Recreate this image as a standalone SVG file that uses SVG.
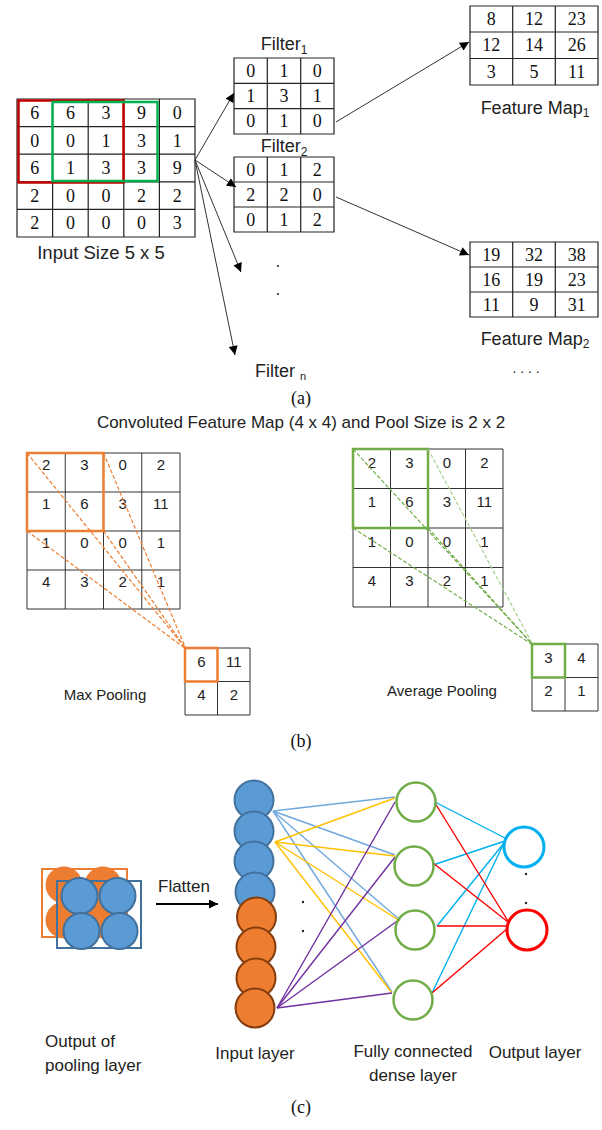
<svg xmlns="http://www.w3.org/2000/svg" width="602" height="1130" viewBox="0 0 602 1130">
  <style>
    .grid{fill:none;stroke:#222;stroke-width:1.2}
    .gridb{fill:none;stroke:#333;stroke-width:1}
    .num{font-family:"Liberation Serif","Times New Roman",serif;font-size:18px;fill:#111;text-anchor:middle}
    .cap{font-family:"Liberation Serif","Times New Roman",serif;font-size:18px;fill:#111;text-anchor:middle}
    .sn{font-family:"Liberation Sans",Arial,sans-serif;font-size:15px;fill:#222;text-anchor:middle}
    .la{font-family:"Liberation Sans",Arial,sans-serif;font-size:18px;fill:#222;text-anchor:middle}
    .fm{font-family:"Liberation Sans",Arial,sans-serif;font-size:18px;fill:#222;text-anchor:middle}
    .lb{font-family:"Liberation Sans",Arial,sans-serif;font-size:15px;fill:#222;text-anchor:middle}
    .ttl{font-family:"Liberation Sans",Arial,sans-serif;font-size:17px;fill:#222;text-anchor:middle}
    .lc{font-family:"Liberation Sans",Arial,sans-serif;font-size:17px;fill:#222}
    .mid{text-anchor:middle}
    .conn{stroke:#333;stroke-width:1;fill:none}
    .dsh{fill:none;stroke-width:1.2;stroke-dasharray:4 2}
    .bl{fill:#5B9BD5;stroke:#41719C;stroke-width:2}
    .or{fill:#ED7D31;stroke:#843C0C;stroke-width:2}
    .hid{fill:none;stroke:#70AD47;stroke-width:2.5}
    .w{stroke-width:1.4;fill:none}
  </style>
  <defs>
    <marker id="ah" viewBox="0 0 10 10" refX="10" refY="5" markerWidth="10" markerHeight="9" markerUnits="userSpaceOnUse" orient="auto">
      <path d="M0,0 L10,5 L0,10 z" fill="#000"/>
    </marker>
  </defs>
  <rect width="602" height="1130" fill="#fff"/>

  <!-- (a) convolution -->
  <g id="input-grid">
    <path class="grid" d="M17,99H195V237H17Z M52.6,99V237 M88.2,99V237 M123.8,99V237 M159.4,99V237 M17,126.6H195 M17,154.2H195 M17,181.8H195 M17,209.4H195"/>
    <g class="num">
      <text x="34.8" y="119">6</text><text x="70.4" y="119">6</text><text x="106" y="119">3</text><text x="141.6" y="119">9</text><text x="177.2" y="119">0</text>
      <text x="34.8" y="146.6">0</text><text x="70.4" y="146.6">0</text><text x="106" y="146.6">1</text><text x="141.6" y="146.6">3</text><text x="177.2" y="146.6">1</text>
      <text x="34.8" y="174.2">6</text><text x="70.4" y="174.2">1</text><text x="106" y="174.2">3</text><text x="141.6" y="174.2">3</text><text x="177.2" y="174.2">9</text>
      <text x="34.8" y="201.8">2</text><text x="70.4" y="201.8">0</text><text x="106" y="201.8">0</text><text x="141.6" y="201.8">2</text><text x="177.2" y="201.8">2</text>
      <text x="34.8" y="229.4">2</text><text x="70.4" y="229.4">0</text><text x="106" y="229.4">0</text><text x="141.6" y="229.4">0</text><text x="177.2" y="229.4">3</text>
    </g>
    <rect x="18.5" y="100.5" width="105" height="82" fill="none" stroke="#C00000" stroke-width="2.5"/>
    <rect x="52.5" y="102" width="105" height="79" fill="none" stroke="#00B050" stroke-width="2.5"/>
    <text class="la" x="101" y="259" style="font-size:18.5px">Input Size 5 x 5</text>
  </g>

  <g id="filter1">
    <text class="la" x="284" y="50">Filter<tspan font-size="12" dy="4">1</tspan></text>
    <path class="grid" d="M234,58H334V134H234Z M267.3,58V134 M300.7,58V134 M234,83.3H334 M234,108.7H334"/>
    <g class="num">
      <text x="250.7" y="76.7">0</text><text x="284" y="76.7">1</text><text x="317.3" y="76.7">0</text>
      <text x="250.7" y="102">1</text><text x="284" y="102">3</text><text x="317.3" y="102">1</text>
      <text x="250.7" y="127.3">0</text><text x="284" y="127.3">1</text><text x="317.3" y="127.3">0</text>
    </g>
  </g>

  <g id="filter2">
    <text class="la" x="284" y="152">Filter<tspan font-size="12" dy="4">2</tspan></text>
    <path class="grid" d="M234,157H334V232H234Z M267.3,157V232 M300.7,157V232 M234,182H334 M234,207H334"/>
    <g class="num">
      <text x="250.7" y="175.5">0</text><text x="284" y="175.5">1</text><text x="317.3" y="175.5">2</text>
      <text x="250.7" y="200.5">2</text><text x="284" y="200.5">2</text><text x="317.3" y="200.5">0</text>
      <text x="250.7" y="225.5">0</text><text x="284" y="225.5">1</text><text x="317.3" y="225.5">2</text>
    </g>
  </g>

  <g id="filter-n">
    <circle cx="278" cy="266" r="1.1" fill="#222"/>
    <circle cx="278" cy="294" r="1.1" fill="#222"/>
    <text class="la" x="255" y="377" style="text-anchor:start">Filter <tspan font-size="11" dy="3">n</tspan></text>
  </g>

  <g id="feature-map1">
    <path class="grid" d="M470,6H598V85H470Z M512.7,6V85 M555.3,6V85 M470,32H598 M470,58.5H598"/>
    <g class="num">
      <text x="491.3" y="25">8</text><text x="534" y="25">12</text><text x="576.7" y="25">23</text>
      <text x="491.3" y="51.3">12</text><text x="534" y="51.3">14</text><text x="576.7" y="51.3">26</text>
      <text x="491.3" y="77.8">3</text><text x="534" y="77.8">5</text><text x="576.7" y="77.8">11</text>
    </g>
    <text class="fm" x="535" y="114">Feature Map<tspan font-size="12" dy="3">1</tspan></text>
  </g>

  <g id="feature-map2">
    <path class="grid" d="M470,242H598V317H470Z M512.7,242V317 M555.3,242V317 M470,267H598 M470,292H598"/>
    <g class="num">
      <text x="491.3" y="260.5">19</text><text x="534" y="260.5">32</text><text x="576.7" y="260.5">38</text>
      <text x="491.3" y="285.5">16</text><text x="534" y="285.5">19</text><text x="576.7" y="285.5">23</text>
      <text x="491.3" y="310.5">11</text><text x="534" y="310.5">9</text><text x="576.7" y="310.5">31</text>
    </g>
    <text class="fm" x="535" y="345">Feature Map<tspan font-size="12" dy="3">2</tspan></text>
    <text class="fm" x="526" y="373" style="font-size:14px">. . . .</text>
  </g>

  <g id="connectors-a">
    <line class="conn" x1="195" y1="160" x2="234" y2="93" marker-end="url(#ah)"/>
    <line class="conn" x1="195" y1="160" x2="236" y2="187" marker-end="url(#ah)"/>
    <line class="conn" x1="195" y1="160" x2="241" y2="272" marker-end="url(#ah)"/>
    <line class="conn" x1="195" y1="160" x2="235" y2="355" marker-end="url(#ah)"/>
    <line class="conn" x1="336" y1="122" x2="469" y2="42" marker-end="url(#ah)"/>
    <line class="conn" x1="336" y1="197" x2="469" y2="255" marker-end="url(#ah)"/>
  </g>
  <text class="cap" x="301" y="404">(a)</text>

  <!-- (b) pooling -->
  <text class="ttl" x="301" y="428">Convoluted Feature Map (4 x 4) and Pool Size is 2 x 2</text>

  <g id="max-pool">
    <path class="gridb" d="M27,453H180V609H27Z M65.25,453V609 M103.5,453V609 M141.75,453V609 M27,492H180 M27,531H180 M27,570H180"/>
    <g class="sn">
      <text x="46.1" y="470">2</text><text x="84.4" y="470">3</text><text x="122.6" y="470">0</text><text x="160.9" y="470">2</text>
      <text x="46.1" y="509">1</text><text x="84.4" y="509">6</text><text x="122.6" y="509">3</text><text x="160.9" y="509">11</text>
      <text x="46.1" y="548">1</text><text x="84.4" y="548">0</text><text x="122.6" y="548">0</text><text x="160.9" y="548">1</text>
      <text x="46.1" y="587">4</text><text x="84.4" y="587">3</text><text x="122.6" y="587">2</text><text x="160.9" y="587">1</text>
    </g>
    <rect x="27" y="453" width="76.5" height="78" fill="none" stroke="#ED7D31" stroke-width="2.5"/>
    <path class="gridb" d="M185,648H250V715H185Z M217.5,648V715 M185,681.5H250"/>
    <g class="sn">
      <text x="201.3" y="667">6</text><text x="233.8" y="667">11</text>
      <text x="201.3" y="700">4</text><text x="233.8" y="700">2</text>
    </g>
    <rect x="185" y="648" width="32.5" height="33.5" fill="none" stroke="#ED7D31" stroke-width="2.5"/>
    <g class="dsh" stroke="#ED7D31">
      <line x1="27" y1="453" x2="186" y2="649"/>
      <line x1="103.5" y1="453" x2="186" y2="649"/>
      <line x1="27" y1="531" x2="186" y2="649"/>
      <line x1="103.5" y1="531" x2="186" y2="649"/>
    </g>
    <text class="lb" x="105" y="700">Max Pooling</text>
  </g>

  <g id="avg-pool">
    <path class="gridb" d="M353,449H503V607H353Z M390.5,449V607 M428,449V607 M465.5,449V607 M353,488.5H503 M353,528H503 M353,567.5H503"/>
    <g class="sn">
      <text x="371.8" y="467.5">2</text><text x="409.3" y="467.5">3</text><text x="446.8" y="467.5">0</text><text x="484.3" y="467.5">2</text>
      <text x="371.8" y="507">1</text><text x="409.3" y="507">6</text><text x="446.8" y="507">3</text><text x="484.3" y="507">11</text>
      <text x="371.8" y="546.5">1</text><text x="409.3" y="546.5">0</text><text x="446.8" y="546.5">0</text><text x="484.3" y="546.5">1</text>
      <text x="371.8" y="586">4</text><text x="409.3" y="586">3</text><text x="446.8" y="586">2</text><text x="484.3" y="586">1</text>
    </g>
    <rect x="353" y="449" width="75" height="79" fill="none" stroke="#70AD47" stroke-width="2.5"/>
    <path class="gridb" d="M532,644H598V711H532Z M565,644V711 M532,677.5H598"/>
    <g class="sn">
      <text x="548.5" y="663">3</text><text x="581.5" y="663">4</text>
      <text x="548.5" y="696">2</text><text x="581.5" y="696">1</text>
    </g>
    <rect x="532" y="644" width="33" height="33.5" fill="none" stroke="#70AD47" stroke-width="2.5"/>
    <g class="dsh">
      <line x1="353" y1="449" x2="533" y2="645" stroke="#70AD47"/>
      <line x1="428" y1="449" x2="533" y2="645" stroke="#A9D18E"/>
      <line x1="353" y1="528" x2="533" y2="645" stroke="#70AD47"/>
      <line x1="428" y1="528" x2="533" y2="645" stroke="#70AD47"/>
    </g>
    <text class="lb" x="442" y="696">Average Pooling</text>
  </g>
  <text class="cap" x="301" y="747">(b)</text>

  <!-- (c) fully connected -->
  <g id="pool-output">
    <g fill="#ED7D31">
      <circle cx="64" cy="885" r="18.5"/><circle cx="103" cy="885" r="18.5"/>
      <circle cx="64" cy="920" r="18.5"/><circle cx="103" cy="920" r="18.5"/>
    </g>
    <rect x="42" y="869" width="85" height="68" fill="none" stroke="#ED7D31" stroke-width="2"/>
    <rect x="57" y="881" width="84" height="67" fill="none" stroke="#41719C" stroke-width="2"/>
    <circle class="bl" cx="79.5" cy="896" r="18"/><circle class="bl" cx="117.5" cy="896" r="18"/>
    <circle class="bl" cx="81.5" cy="931" r="18"/><circle class="bl" cx="119.5" cy="931" r="18"/>
    <text class="lc" x="45" y="1047">Output of</text>
    <text class="lc" x="45" y="1071">pooling layer</text>
  </g>

  <g id="flatten">
    <text class="lc mid" x="184" y="892">Flatten</text>
    <line x1="156" y1="904" x2="218" y2="904" stroke="#000" stroke-width="2" marker-end="url(#ah)"/>
  </g>

  <g id="connectors-c">
    <g class="w" stroke="#6FA8DC">
      <line x1="273" y1="811" x2="395" y2="797"/><line x1="273" y1="811" x2="395" y2="855"/>
      <line x1="273" y1="811" x2="400" y2="920"/><line x1="273" y1="811" x2="392" y2="992"/>
    </g>
    <g class="w" stroke="#FFC000">
      <line x1="275" y1="842" x2="395" y2="798"/><line x1="275" y1="842" x2="395" y2="856"/>
      <line x1="275" y1="842" x2="400" y2="921"/><line x1="275" y1="842" x2="392" y2="993"/>
    </g>
    <g class="w" stroke="#7030A0">
      <line x1="277" y1="1008" x2="395" y2="802"/><line x1="277" y1="1008" x2="395" y2="857"/>
      <line x1="277" y1="1008" x2="400" y2="919"/><line x1="277" y1="1008" x2="392" y2="993"/>
    </g>
    <g class="w" stroke="#00B0F0">
      <line x1="435" y1="802" x2="505" y2="838"/><line x1="433" y1="865" x2="505" y2="841"/>
      <line x1="437" y1="926" x2="504" y2="843"/><line x1="432" y1="993" x2="503" y2="845"/>
    </g>
    <g class="w" stroke="#FF0000">
      <line x1="435" y1="803" x2="508" y2="921"/><line x1="433" y1="863" x2="508" y2="922"/>
      <line x1="437" y1="926" x2="508" y2="926"/><line x1="432" y1="993" x2="508" y2="928"/>
    </g>
  </g>

  <g id="input-layer">
    <circle class="bl" cx="254" cy="800" r="19.5"/>
    <circle class="bl" cx="254" cy="831" r="19.5"/>
    <circle class="bl" cx="254" cy="861" r="19.5"/>
    <circle class="bl" cx="255" cy="892" r="19.5"/>
    <circle class="or" cx="256.5" cy="917" r="19.5"/>
    <circle class="or" cx="256" cy="947" r="19.5"/>
    <circle class="or" cx="256" cy="978" r="19.5"/>
    <circle class="or" cx="255" cy="1008" r="19.5"/>
    <circle cx="303" cy="902" r="1.2" fill="#222"/>
    <circle cx="303" cy="931" r="1.2" fill="#222"/>
    <text class="lc mid" x="255" y="1059">Input layer</text>
  </g>

  <g id="dense-layer">
    <circle class="hid" cx="416" cy="802" r="19.5"/>
    <circle class="hid" cx="414" cy="866" r="19.5"/>
    <circle class="hid" cx="415" cy="930" r="19.5"/>
    <circle class="hid" cx="413" cy="1000" r="19.5"/>
    <text class="lc mid" x="413" y="1057">Fully connected</text>
    <text class="lc mid" x="413" y="1081">dense layer</text>
  </g>

  <g id="output-layer">
    <circle cx="524" cy="847" r="20" fill="none" stroke="#00B0F0" stroke-width="3"/>
    <circle cx="527" cy="930" r="20" fill="none" stroke="#FF0000" stroke-width="3"/>
    <circle cx="526" cy="874" r="1.2" fill="#222"/>
    <circle cx="526" cy="903" r="1.2" fill="#222"/>
    <text class="lc mid" x="535" y="1058">Output layer</text>
  </g>
  <text class="cap" x="301" y="1113">(c)</text>
</svg>
